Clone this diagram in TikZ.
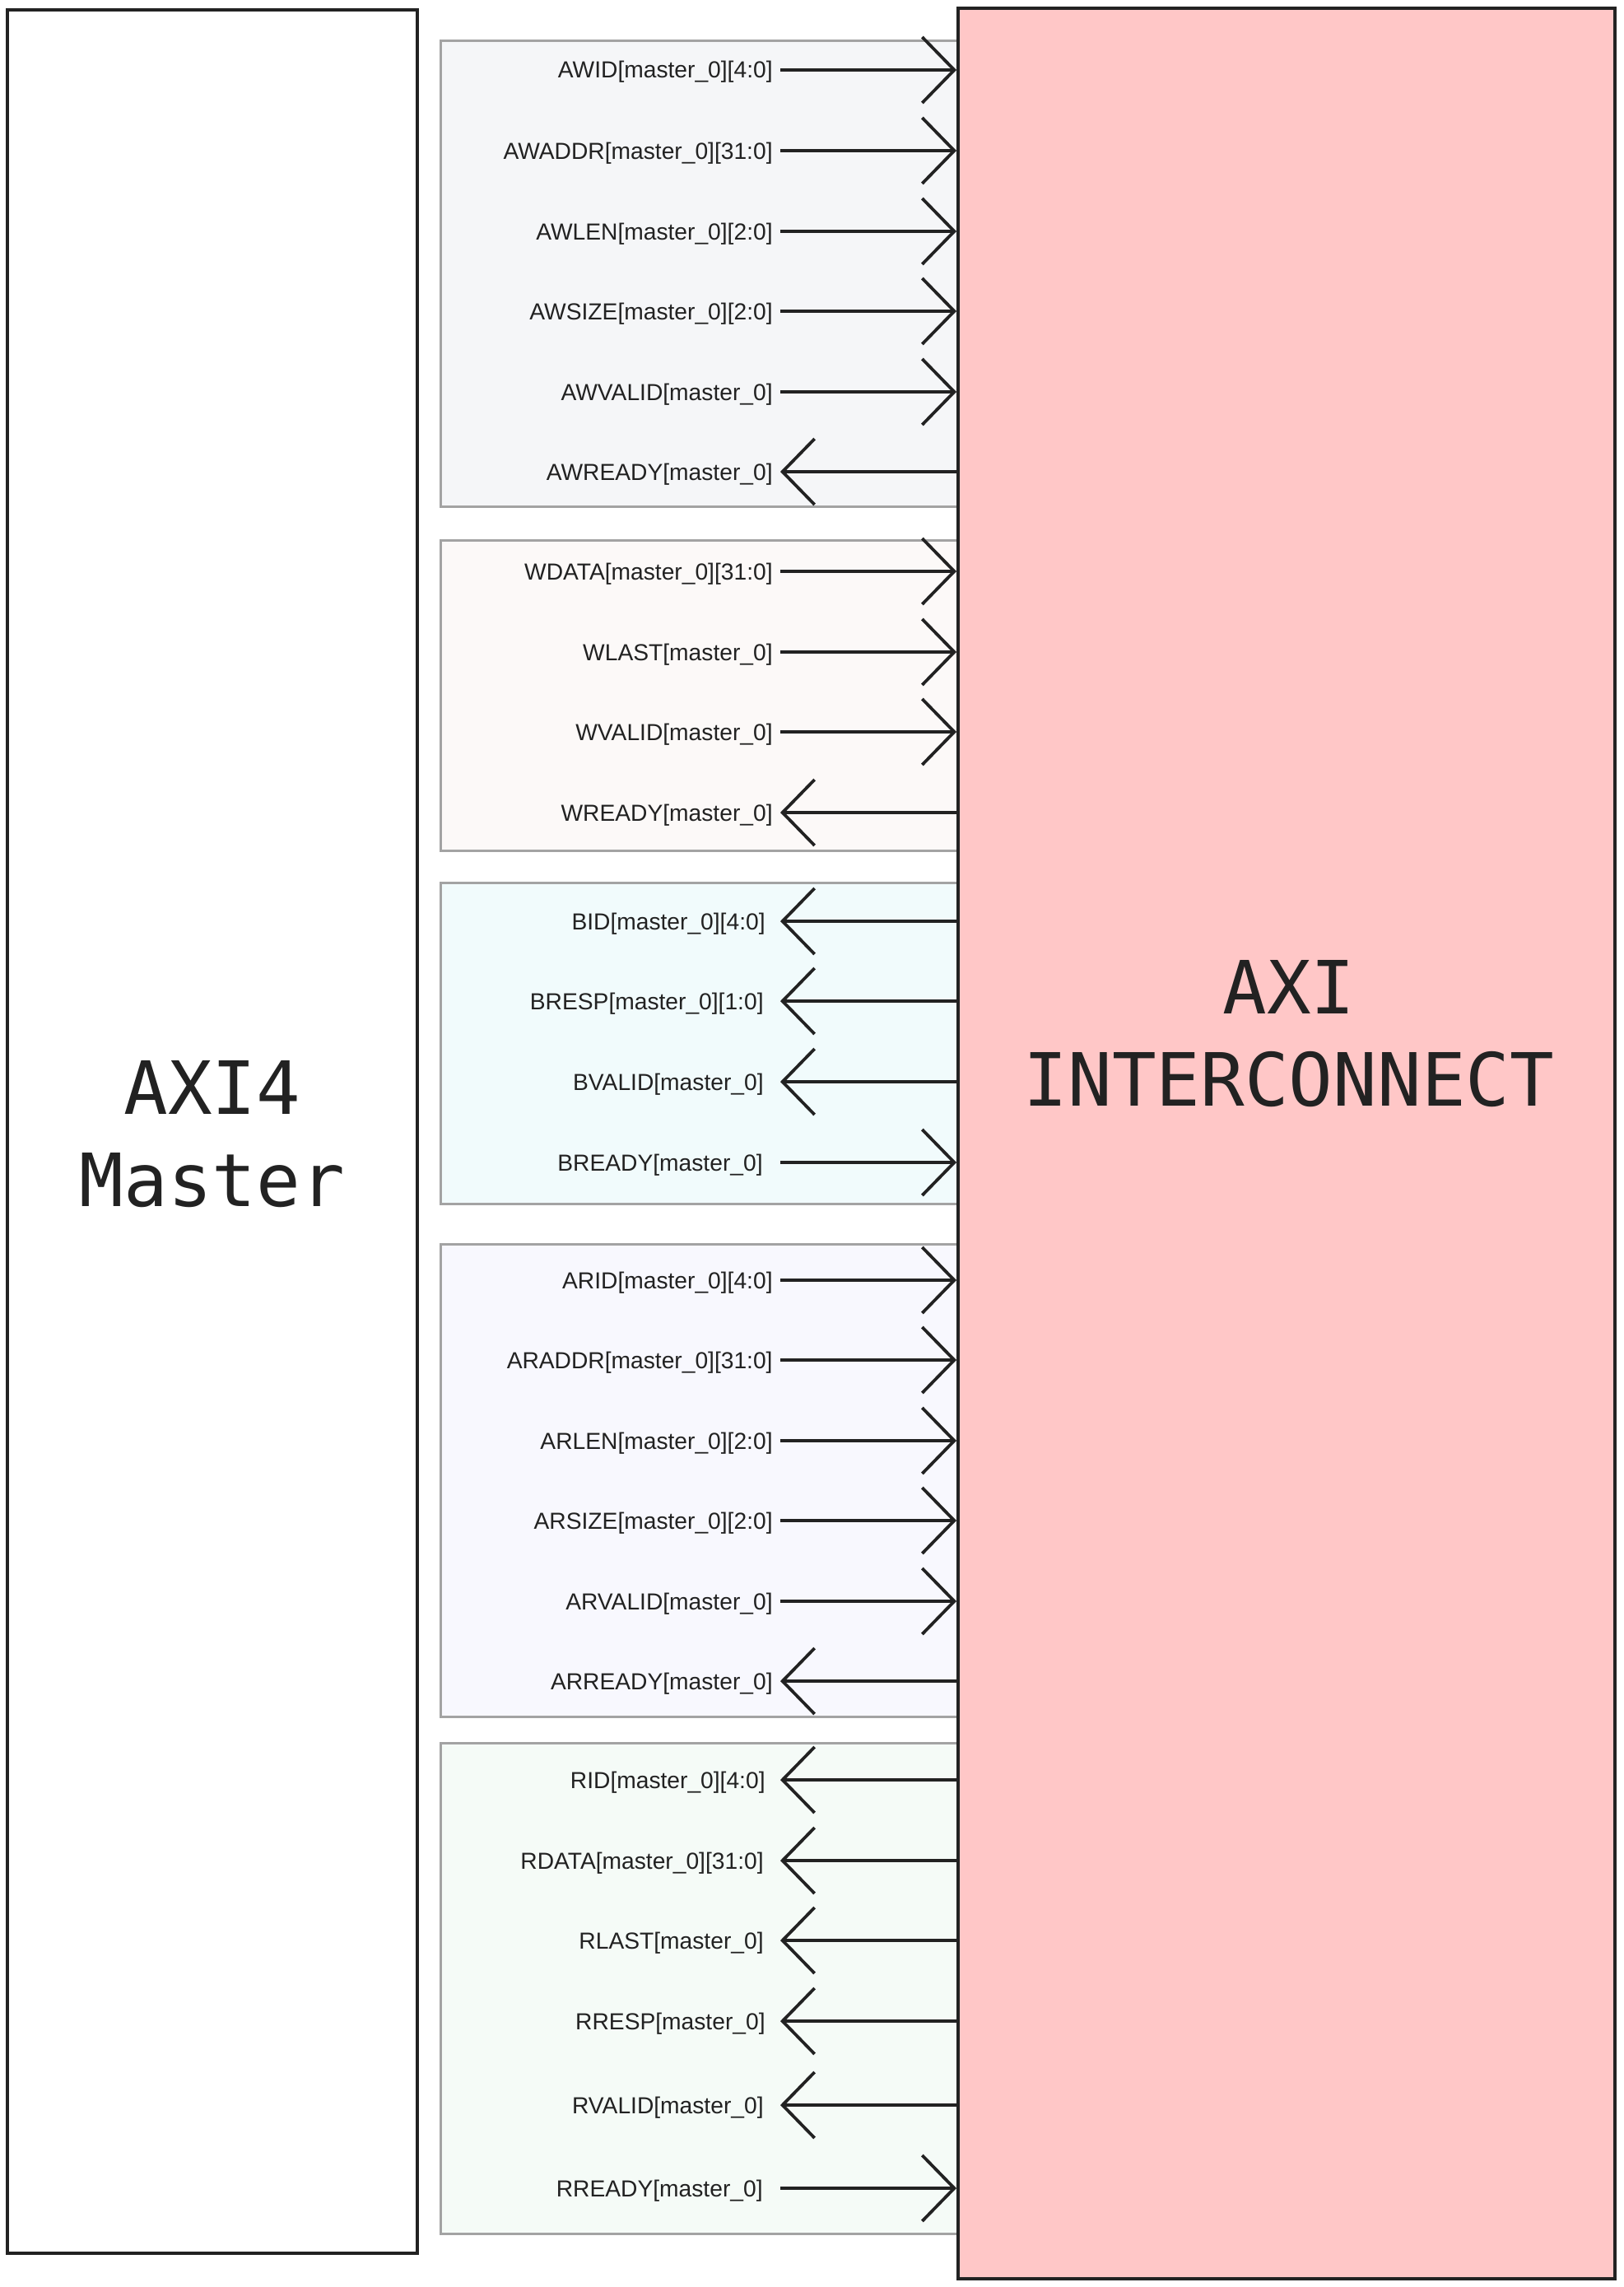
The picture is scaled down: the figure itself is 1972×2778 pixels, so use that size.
\documentclass[tikz,border=0pt]{standalone}
\usepackage{fontspec}
\setmainfont{Liberation Sans}
\newfontfamily\bigmono{DejaVu Sans Mono}
\usetikzlibrary{arrows.meta}
\definecolor{ink}{HTML}{222222}
\definecolor{grpline}{HTML}{A3A3A3}
\definecolor{icfill}{HTML}{FFC7C7}
\definecolor{gA}{HTML}{F5F6F8}
\definecolor{gW}{HTML}{FCF9F8}
\definecolor{gB}{HTML}{F1FBFC}
\definecolor{gR}{HTML}{F8F8FE}
\definecolor{gD}{HTML}{F5FBF7}
\begin{document}
\begin{tikzpicture}[x=0.5pt,y=-0.5pt,
  grp/.style={draw=grpline,line width=1.5pt},
  block/.style={draw=ink,line width=2pt,inner sep=0pt},
  bigtxt/.style={font=\bigmono\fontsize{44.6}{56}\selectfont,text=ink,align=center,inner sep=0pt},
  sig/.style={font=\fontsize{14.1}{16}\selectfont,text=ink,anchor=base east,inner sep=0pt},
  outarr/.style={draw=ink,line width=1.9pt,-{Straight Barb[length=19.5pt,width=40pt]}},
  inarr/.style={draw=ink,line width=1.9pt,{Straight Barb[length=19.5pt,width=40pt]}-}]
\useasboundingbox (0,0) rectangle (1972,2778);
% channel groups
\path[grp,fill=gA] (535,50) rectangle (1172,615);
\path[grp,fill=gW] (535,656) rectangle (1172,1033);
\path[grp,fill=gB] (535,1072) rectangle (1172,1462);
\path[grp,fill=gR] (535,1511) rectangle (1172,2085);
\path[grp,fill=gD] (535,2117) rectangle (1172,2713);
% blocks
\node[block,fill=icfill,minimum width=399pt,minimum height=1379pt] (ic) at (1563,1389) {};
\node[block,fill=white,minimum width=249pt,minimum height=1362.5pt] (master) at (258,1374.5) {};
\node[bigtxt] (mtxt) at (258,1378) {AXI4\\Master};
\node[bigtxt] (ictxt) at (1566,1256) {AXI\\INTERCONNECT};
% outputs (master -> interconnect)
\foreach \y/\x/\t [count=\i] in {
  85/939/{AWID[master\_0][4:0]},
  183/939/{AWADDR[master\_0][31:0]},
  281/939/{AWLEN[master\_0][2:0]},
  378/939/{AWSIZE[master\_0][2:0]},
  476/939/{AWVALID[master\_0]},
  694/939/{WDATA[master\_0][31:0]},
  792/939/{WLAST[master\_0]},
  889/939/{WVALID[master\_0]},
  1412/927/{BREADY[master\_0]},
  1555/939/{ARID[master\_0][4:0]},
  1652/939/{ARADDR[master\_0][31:0]},
  1750/939/{ARLEN[master\_0][2:0]},
  1847/939/{ARSIZE[master\_0][2:0]},
  1945/939/{ARVALID[master\_0]},
  2658/927/{RREADY[master\_0]}}{
  \coordinate (so\i) at (948,\y);
  \node[sig] (lo\i) at (\x,\y+10) {\t};
  \draw[outarr] (so\i) -- (so\i -| ic.west);
}
% inputs (interconnect -> master)
\foreach \y/\x/\t [count=\i] in {
  573/939/{AWREADY[master\_0]},
  987/939/{WREADY[master\_0]},
  1119/930/{BID[master\_0][4:0]},
  1216/928/{BRESP[master\_0][1:0]},
  1314/928/{BVALID[master\_0]},
  2042/939/{ARREADY[master\_0]},
  2162/930/{RID[master\_0][4:0]},
  2260/928/{RDATA[master\_0][31:0]},
  2357/928/{RLAST[master\_0]},
  2455/930/{RRESP[master\_0]},
  2557/928/{RVALID[master\_0]}}{
  \coordinate (si\i) at (948,\y);
  \node[sig] (li\i) at (\x,\y+10) {\t};
  \draw[inarr] (si\i) -- (si\i -| ic.west);
}
\end{tikzpicture}
\end{document}
